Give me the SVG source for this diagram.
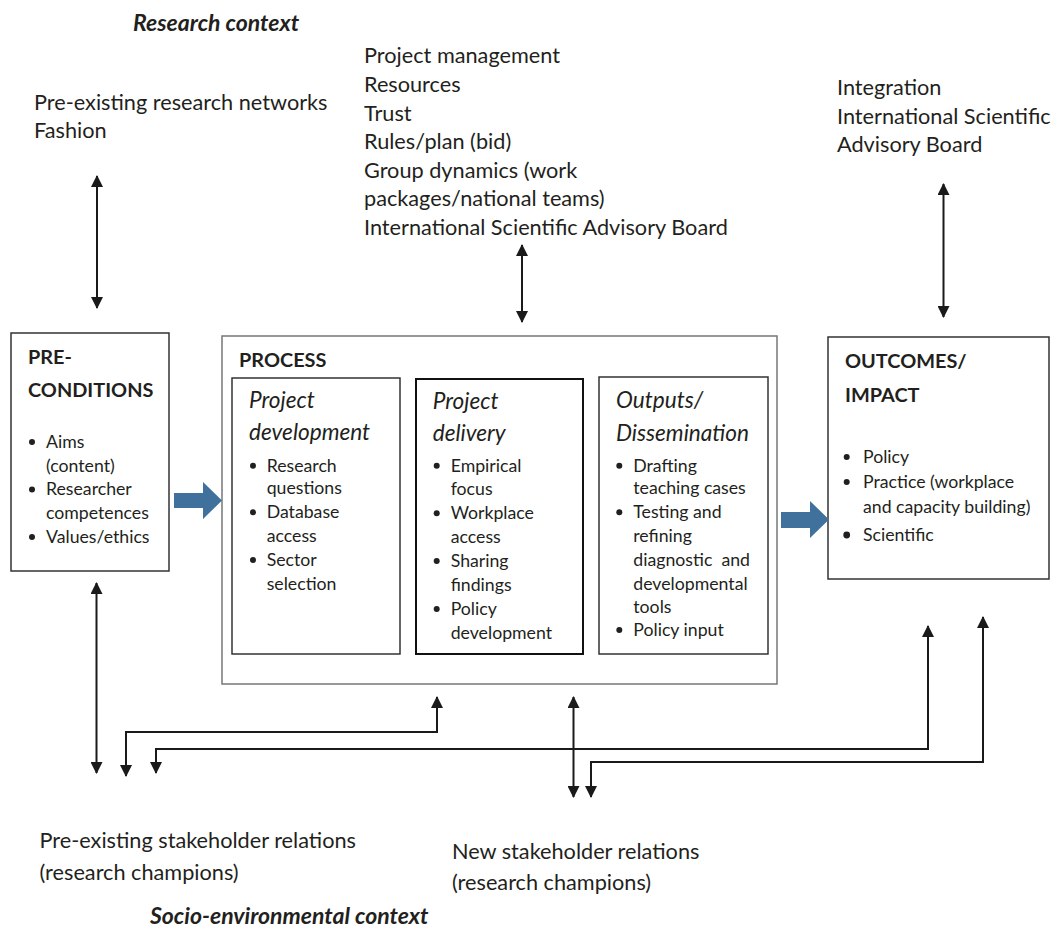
<svg xmlns="http://www.w3.org/2000/svg" width="1053" height="928" viewBox="0 0 1053 928">
<style>
text{font-family:Lato,"Open Sans","Liberation Sans",sans-serif;fill:#231f20}
.L{font-size:21.7px}
.s{font-size:17.7px}
.h{font-size:19.9px;font-weight:bold}
.i{font-size:22.6px;font-style:italic}
.bi{font-size:23px;font-weight:bold;font-style:italic}
.box{fill:#fff;stroke:#333;stroke-width:1.5}
.bul{fill:#231f20}
.con{fill:none;stroke:#1a1a1a;stroke-width:2;marker-start:url(#ah);marker-end:url(#ah)}
.blue{fill:#40709c}
</style>
<defs>
<marker id="ah" viewBox="0 0 12 12" refX="11" refY="6" markerWidth="12" markerHeight="12" markerUnits="userSpaceOnUse" orient="auto-start-reverse">
<path d="M0,0 L12,6 L0,12 z" fill="#1a1a1a"/>
</marker>
</defs>
<rect width="1053" height="928" fill="#fff"/>

<g id="research-context">
<text class="bi" x="133" y="31">Research context</text>
</g>
<g id="networks">
<text class="L" x="34" y="110">Pre-existing research networks</text>
<text class="L" x="34" y="138">Fashion</text>
</g>
<g id="management">
<text class="L" x="364" y="63.3">Project management</text>
<text class="L" x="364" y="92">Resources</text>
<text class="L" x="364" y="120.5">Trust</text>
<text class="L" x="364" y="149">Rules/plan (bid)</text>
<text class="L" x="364" y="177.5">Group dynamics (work</text>
<text class="L" x="364" y="206">packages/national teams)</text>
<text class="L" x="364" y="234.5">International Scientific Advisory Board</text>
</g>
<g id="integration">
<text class="L" x="837" y="95">Integration</text>
<text class="L" x="837" y="123.5">International Scientific</text>
<text class="L" x="837" y="152">Advisory Board</text>
</g>

<g id="preconditions">
<rect class="box" x="11" y="333" width="158" height="238"/>
<text class="h" x="28" y="364">PRE-</text>
<text class="h" x="28" y="397">CONDITIONS</text>
<circle class="bul" cx="32" cy="442" r="3"/>
<circle class="bul" cx="32" cy="489.4" r="3"/>
<circle class="bul" cx="32" cy="537" r="3"/>
<text class="s" x="46" y="448">Aims</text>
<text class="s" x="46" y="471.7">(content)</text>
<text class="s" x="46" y="495.4">Researcher</text>
<text class="s" x="46" y="519">competences</text>
<text class="s" x="46" y="543">Values/ethics</text>
</g>

<g id="process">
<rect x="222" y="336" width="555" height="348" fill="#fff" stroke="#777" stroke-width="1.5"/>
<text class="h" x="239" y="366.7">PROCESS</text>
</g>

<g id="project-development">
<rect class="box" x="232" y="378" width="168" height="276" stroke-width="1.3"/>
<text class="i" x="249" y="408">Project</text>
<text class="i" x="249" y="439.5">development</text>
<circle class="bul" cx="253" cy="465.7" r="3"/>
<circle class="bul" cx="253" cy="512.3" r="3"/>
<circle class="bul" cx="253" cy="560" r="3"/>
<text class="s" x="266.7" y="471.7">Research</text>
<text class="s" x="266.7" y="494.3">questions</text>
<text class="s" x="266.7" y="518.3">Database</text>
<text class="s" x="266.7" y="542.3">access</text>
<text class="s" x="266.7" y="566">Sector</text>
<text class="s" x="266.7" y="590">selection</text>
</g>

<g id="project-delivery">
<rect x="416" y="379" width="167" height="275" fill="#fff" stroke="#111" stroke-width="2"/>
<text class="i" x="432.7" y="409">Project</text>
<text class="i" x="432.7" y="441">delivery</text>
<circle class="bul" cx="436.7" cy="465.7" r="3"/>
<circle class="bul" cx="436.7" cy="513.3" r="3"/>
<circle class="bul" cx="436.7" cy="561" r="3"/>
<circle class="bul" cx="436.7" cy="609" r="3"/>
<text class="s" x="450.7" y="471.7">Empirical</text>
<text class="s" x="450.7" y="495">focus</text>
<text class="s" x="450.7" y="519.3">Workplace</text>
<text class="s" x="450.7" y="542.5">access</text>
<text class="s" x="450.7" y="567">Sharing</text>
<text class="s" x="450.7" y="591">findings</text>
<text class="s" x="450.7" y="615">Policy</text>
<text class="s" x="450.7" y="639.3">development</text>
</g>

<g id="outputs">
<rect class="box" x="599" y="377" width="169" height="277" stroke-width="1.3"/>
<text class="i" x="616" y="408.3">Outputs/</text>
<text class="i" x="616" y="440.7">Dissemination</text>
<circle class="bul" cx="619.3" cy="465.7" r="3"/>
<circle class="bul" cx="619.3" cy="512.3" r="3"/>
<circle class="bul" cx="619.3" cy="630" r="3"/>
<text class="s" x="633.3" y="471.7">Drafting</text>
<text class="s" x="633.3" y="494.3">teaching cases</text>
<text class="s" x="633.3" y="518.3">Testing and</text>
<text class="s" x="633.3" y="542.3">refining</text>
<text class="s" x="633.3" y="566" xml:space="preserve">diagnostic  and</text>
<text class="s" x="633.3" y="590">developmental</text>
<text class="s" x="633.3" y="612.7">tools</text>
<text class="s" x="633.3" y="636">Policy input</text>
</g>

<g id="outcomes">
<rect class="box" x="828" y="337" width="221" height="242"/>
<text class="h" x="845" y="368">OUTCOMES/</text>
<text class="h" x="845" y="401.7">IMPACT</text>
<circle class="bul" cx="846.7" cy="457" r="3"/>
<circle class="bul" cx="846.7" cy="482" r="3"/>
<circle class="bul" cx="846.7" cy="535" r="3.4"/>
<text class="s" x="863" y="463">Policy</text>
<text class="s" x="863" y="488">Practice (workplace</text>
<text class="s" x="863" y="512.7">and capacity building)</text>
<text class="s" x="863" y="540.7">Scientific</text>
</g>

<g id="pre-stakeholders">
<text class="L" x="39.5" y="848">Pre-existing stakeholder relations</text>
<text class="L" x="39.5" y="880">(research champions)</text>
</g>
<g id="new-stakeholders">
<text class="L" x="452" y="858.5">New stakeholder relations</text>
<text class="L" x="452" y="890">(research champions)</text>
</g>
<g id="socio-context">
<text class="bi" x="150" y="924">Socio-environmental context</text>
</g>

<g id="connectors">
<path class="blue" d="M174,493 H203 V482 L222,500.5 L203,519 V508 H174 Z"/>
<path class="blue" d="M781,512 H810 V501 L829,519.5 L810,538 V528 H781 Z"/>
<path class="con" d="M97,176 V308"/>
<path class="con" d="M522,245 V322"/>
<path class="con" d="M943.5,184 V317"/>
<path class="con" d="M96.5,583 V773"/>
<path class="con" d="M126,776 V732 H437 V697"/>
<path class="con" d="M156,773 V749 H928 V626"/>
<path class="con" d="M573.5,697 V797"/>
<path class="con" d="M591,797 V762 H983 V617"/>
</g>
</svg>
